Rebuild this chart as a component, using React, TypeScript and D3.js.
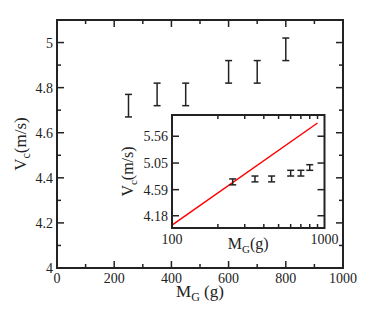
import React from "react";
import * as d3 from "d3";

// measurements: mass (g) with velocity error bar bounds (m/s)
const massG = [250, 350, 450, 600, 700, 800];
const vLow = [4.67, 4.72, 4.72, 4.82, 4.82, 4.92];
const vHigh = [4.77, 4.82, 4.82, 4.92, 4.92, 5.02];

// main axes
const xTicks = [0, 200, 400, 600, 800, 1000];
const xMinor = [100, 300, 500, 700, 900];
const yTicks = [4, 4.2, 4.4, 4.6, 4.8, 5];
const yMinor = [4.1, 4.3, 4.5, 4.7, 4.9];

// inset axes (log-log)
const insetYTicks = [4.18, 4.59, 5.05, 5.56];
const insetXTicks = [100, 1000];
const insetXMinor = [200, 300, 400, 500, 600, 700, 800, 900];

// red reference line  V ~ M^(1/6)
const lineMass = [100, 900];
const lineV = [4.04, 5.83];

const font = "'Liberation Serif', 'Times New Roman', serif";
const ink = "#222";

const W = 382;
const H = 320;
const main = { left: 57, right: 343, top: 20, bottom: 268 };
const inset = { left: 172, right: 324.5, top: 115, bottom: 228 };

const App = () => {
    const x = d3.scaleLinear().domain([0, 1000]).range([main.left, main.right]);
    const y = d3.scaleLinear().domain([4, 5.1]).range([main.bottom, main.top]);

    const ix = d3.scaleLog().domain([100, 1000]).range([inset.left, inset.right]);
    const iy = d3.scaleLog().domain([4, 6]).range([inset.bottom, inset.top]);

    const line = d3.line<number>()
        .x((_, i) => ix(lineMass[i]))
        .y((d) => iy(d));

    const major = 7;
    const minor = 4;
    const cap = 3.5;

    return (
        <svg width={W} height={H} style={{ position: "absolute", left: 0, top: 0 }}
             fontFamily={font} fill={ink}>
            <rect width={W} height={H} fill="white" />

            {/* main frame ticks */}
            <g stroke={ink} strokeWidth={1.5}>
                {xTicks.map((t) => (
                    <g key={"xt" + t}>
                        <line x1={x(t)} x2={x(t)} y1={main.bottom} y2={main.bottom - major} />
                        <line x1={x(t)} x2={x(t)} y1={main.top} y2={main.top + major} />
                    </g>
                ))}
                {xMinor.map((t) => (
                    <g key={"xm" + t}>
                        <line x1={x(t)} x2={x(t)} y1={main.bottom} y2={main.bottom - minor} />
                        <line x1={x(t)} x2={x(t)} y1={main.top} y2={main.top + minor} />
                    </g>
                ))}
                {yTicks.map((t) => (
                    <g key={"yt" + t}>
                        <line x1={main.left} x2={main.left + major} y1={y(t)} y2={y(t)} />
                        <line x1={main.right} x2={main.right - major} y1={y(t)} y2={y(t)} />
                    </g>
                ))}
                {yMinor.map((t) => (
                    <g key={"ym" + t}>
                        <line x1={main.left} x2={main.left + minor} y1={y(t)} y2={y(t)} />
                        <line x1={main.right} x2={main.right - minor} y1={y(t)} y2={y(t)} />
                    </g>
                ))}
                <rect x={main.left} y={main.top} width={main.right - main.left}
                      height={main.bottom - main.top} fill="none" strokeWidth={2} />
            </g>

            {/* main tick labels */}
            <g fontSize={14}>
                {xTicks.map((t) => (
                    <text key={"xl" + t} x={x(t)} y={main.bottom + 15} textAnchor="middle">{t}</text>
                ))}
                {yTicks.map((t) => (
                    <text key={"yl" + t} x={main.left - 4} y={y(t) + 5} textAnchor="end">
                        {d3.format("~g")(t)}
                    </text>
                ))}
            </g>

            {/* main axis titles */}
            <text x={(main.left + main.right) / 2} y={297} textAnchor="middle" fontSize={17}>
                M<tspan fontSize={12} dy={4}>G</tspan><tspan dy={-4}> (g)</tspan>
            </text>
            <text transform={`translate(26,${(main.top + main.bottom) / 2}) rotate(-90)`}
                  textAnchor="middle" fontSize={17}>
                V<tspan fontSize={12} dy={4}>c</tspan><tspan dy={-4}>(m/s)</tspan>
            </text>

            {/* main error bars */}
            <g stroke={ink} strokeWidth={1.5}>
                {massG.map((m, i) => (
                    <g key={"eb" + m}>
                        <line x1={x(m)} x2={x(m)} y1={y(vLow[i])} y2={y(vHigh[i])} />
                        <line x1={x(m) - cap} x2={x(m) + cap} y1={y(vLow[i])} y2={y(vLow[i])} />
                        <line x1={x(m) - cap} x2={x(m) + cap} y1={y(vHigh[i])} y2={y(vHigh[i])} />
                    </g>
                ))}
            </g>

            {/* inset */}
            <rect x={inset.left} y={inset.top} width={inset.right - inset.left}
                  height={inset.bottom - inset.top} fill="white" />
            <path d={line(lineV) ?? ""} fill="none" stroke="#ff0000" strokeWidth={1.5} />
            <g stroke={ink} strokeWidth={1.5}>
                {massG.map((m, i) => (
                    <g key={"ieb" + m}>
                        <line x1={ix(m)} x2={ix(m)} y1={iy(vLow[i])} y2={iy(vHigh[i])} />
                        <line x1={ix(m) - cap} x2={ix(m) + cap} y1={iy(vLow[i])} y2={iy(vLow[i])} />
                        <line x1={ix(m) - cap} x2={ix(m) + cap} y1={iy(vHigh[i])} y2={iy(vHigh[i])} />
                    </g>
                ))}
                {insetXMinor.map((t) => (
                    <g key={"ixm" + t}>
                        <line x1={ix(t)} x2={ix(t)} y1={inset.bottom} y2={inset.bottom - minor} />
                        <line x1={ix(t)} x2={ix(t)} y1={inset.top} y2={inset.top + minor} />
                    </g>
                ))}
                {insetYTicks.map((t) => (
                    <g key={"iyt" + t}>
                        <line x1={inset.left} x2={inset.left + major} y1={iy(t)} y2={iy(t)} />
                        <line x1={inset.right} x2={inset.right - major} y1={iy(t)} y2={iy(t)} />
                    </g>
                ))}
                <rect x={inset.left} y={inset.top} width={inset.right - inset.left}
                      height={inset.bottom - inset.top} fill="none" strokeWidth={2} />
            </g>
            <g fontSize={14}>
                {insetXTicks.map((t) => (
                    <text key={"ixl" + t} x={ix(t)} y={inset.bottom + 16} textAnchor="middle">{t}</text>
                ))}
                {insetYTicks.map((t) => (
                    <text key={"iyl" + t} x={inset.left - 4} y={iy(t) + 5} textAnchor="end">
                        {t.toFixed(2)}
                    </text>
                ))}
            </g>
            <text x={(inset.left + inset.right) / 2} y={249} textAnchor="middle" fontSize={16}>
                M<tspan fontSize={11} dy={4}>G</tspan><tspan dy={-4}>(g)</tspan>
            </text>
            <text transform={`translate(133,${(inset.top + inset.bottom) / 2}) rotate(-90)`}
                  textAnchor="middle" fontSize={16}>
                V<tspan fontSize={11} dy={4}>c</tspan><tspan dy={-4}>(m/s)</tspan>
            </text>
        </svg>
    );
};

export default App;
